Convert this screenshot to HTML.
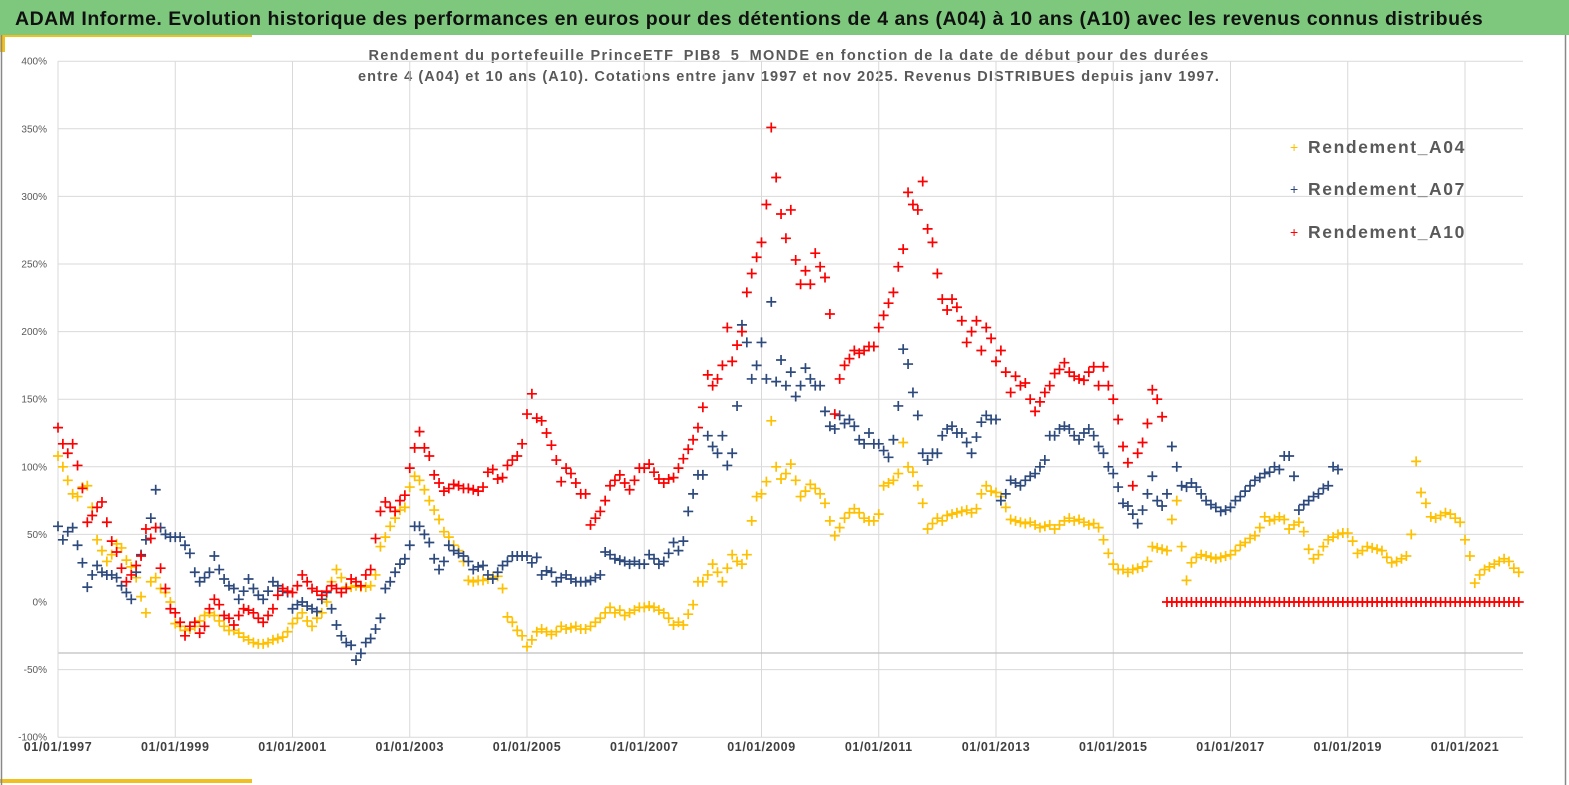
<!DOCTYPE html>
<html><head><meta charset="utf-8"><style>
body{margin:0;background:#fff;width:1569px;height:785px;overflow:hidden;font-family:"Liberation Sans",sans-serif}
</style></head><body>
<svg id="chart" width="1569" height="785" xmlns="http://www.w3.org/2000/svg" style="position:absolute;left:0;top:0">
<rect x="0" y="0" width="1569" height="785" fill="#fff"/>
<rect x="0" y="0" width="1569" height="35" fill="#7ec87e"/>
<text x="15" y="25" font-size="19.5" font-weight="bold" fill="#111" letter-spacing="0.5">ADAM Informe. Evolution historique des performances en euros pour des détentions de 4 ans (A04) à 10 ans (A10) avec les revenus connus distribués</text>
<rect x="0" y="35" width="252" height="2" fill="#f0c020"/>
<rect x="0" y="36" width="5" height="16" fill="#f0c020"/>
<rect x="0" y="779" width="252" height="4" fill="#f0c020"/>
<line x1="1.5" y1="35" x2="1.5" y2="785" stroke="#888" stroke-width="1.5"/>
<line x1="1565.5" y1="35" x2="1565.5" y2="785" stroke="#888" stroke-width="1.5"/>
<text x="789" y="60" font-size="14.5" font-weight="bold" fill="#595959" text-anchor="middle" letter-spacing="1.35">Rendement du portefeuille PrinceETF_PIB8_5_MONDE  en fonction de la date de début pour des durées</text>
<text x="789" y="81" font-size="14.5" font-weight="bold" fill="#595959" text-anchor="middle" letter-spacing="1.1">entre 4 (A04) et 10 ans (A10). Cotations entre janv 1997 et nov 2025. Revenus DISTRIBUES depuis janv 1997.</text>
<g id="grid"></g><g id="axes"></g><g id="marks"></g>
<g>
<g><text x="1290" y="152" font-size="14" fill="#ffc000">+</text><text x="1308" y="153" font-size="17.5" font-weight="bold" fill="#595959" letter-spacing="1.6">Rendement_A04</text></g>
<g><text x="1290" y="194" font-size="14" fill="#2e4a7d">+</text><text x="1308" y="195" font-size="17.5" font-weight="bold" fill="#595959" letter-spacing="1.6">Rendement_A07</text></g>
<g><text x="1290" y="237" font-size="14" fill="#ff0000">+</text><text x="1308" y="238" font-size="17.5" font-weight="bold" fill="#595959" letter-spacing="1.6">Rendement_A10</text></g>
</g>
</svg>
<script>
const startYear = 1997;
const yTicks = [400,350,300,250,200,150,100,50,0,-50,-100];
const xTickYears = [1997,1999,2001,2003,2005,2007,2009,2011,2013,2015,2017,2019,2021];
const a04 = [
108,100,90,80,78,85,86,70,46,38,30,35,
43,40,31,26,18,4,-8,15,18,10,7,0,
-16,-18,-21,-20,-18,-14,-10,-8,-10,-14,-18,-21,
-21,-23,-26,-28,-30,-31,-31,-30,-28,-27,-26,-22,
-16,-12,-8,-14,-18,-12,-8,0,15,24,18,11,
11,12,11,11,12,20,41,48,56,62,68,70,
85,93,90,83,75,68,61,52,48,42,38,30,
16,15,16,16,17,18,19,10,-11,-15,-21,-25,
-33,-28,-22,-20,-22,-24,-22,-18,-20,-19,-18,-20,
-20,-18,-15,-12,-8,-4,-8,-6,-10,-8,-6,-4,
-4,-3,-4,-6,-8,-12,-17,-15,-17,-9,-2,15,
15,20,28,22,15,25,35,30,28,35,60,78,
80,89,134,100,91,95,102,90,78,82,87,84,
80,73,60,49,55,62,66,69,66,62,60,60,
65,86,88,90,95,118,100,96,86,73,54,58,
62,60,64,65,66,67,68,66,69,80,86,82,
81,78,70,61,60,59,58,59,57,55,56,57,
54,57,60,62,60,61,59,57,58,55,46,36,
28,24,24,22,24,25,26,30,41,40,39,38,
61,75,41,16,29,33,35,34,33,32,33,34,
35,38,42,44,47,49,55,63,60,61,63,61,
54,57,59,52,39,32,35,41,46,48,50,51,
51,45,36,38,41,40,39,38,33,29,30,32,
34,50,104,81,73,63,62,64,66,65,62,59,
46,34,14,20,24,26,28,30,32,30,25,22];
const a07 = [
56,46,52,55,42,29,11,20,27,22,20,20,
18,12,7,2,22,35,46,62,83,55,50,48,
48,48,42,36,22,15,18,22,34,24,17,12,
10,2,8,17,10,5,2,8,15,12,8,7,
-5,-2,0,-3,-5,-7,2,7,-5,-17,-25,-30,
-32,-43,-38,-30,-27,-20,-12,10,15,22,28,32,
42,56,56,50,44,32,24,30,42,38,36,34,
30,24,26,27,20,17,22,27,30,34,34,34,
34,29,33,20,23,22,15,18,20,17,15,15,
15,16,18,20,37,35,32,31,30,28,30,28,
28,35,32,28,30,36,44,38,45,67,80,94,
94,123,115,110,123,101,110,145,205,192,165,175,
192,165,222,163,179,160,170,152,160,173,165,160,
160,141,130,128,138,132,135,130,120,117,125,117,
117,112,107,120,145,187,176,155,138,110,105,110,
110,123,128,130,125,125,118,110,122,133,138,135,
135,75,80,90,88,86,90,93,95,100,105,123,
123,128,130,128,123,120,125,128,123,115,110,100,
95,85,73,71,65,58,68,80,93,75,71,80,
115,100,86,85,88,85,80,75,72,70,67,68,
70,75,78,82,86,90,92,95,96,100,98,108,
108,93,68,72,75,78,80,84,86,100,98];
const a10 = [
129,117,110,117,101,84,59,64,70,74,59,45,
37,25,15,20,27,34,54,47,55,25,10,-5,
-8,-15,-25,-18,-15,-23,-18,-5,2,-2,-10,-12,
-17,-10,-5,-6,-8,-12,-15,-10,-5,5,10,8,
7,12,20,15,10,8,5,8,12,10,7,10,
17,15,12,20,24,47,67,74,70,67,75,79,
99,114,126,114,108,94,88,82,84,87,86,84,
84,83,82,85,96,98,91,92,101,105,108,117,
139,154,136,134,125,116,105,89,99,95,88,80,
80,57,62,67,75,86,90,94,88,83,90,99,
99,102,96,91,88,91,92,99,106,113,120,129,
144,168,160,165,175,203,178,190,200,229,243,255,
266,294,351,314,287,269,290,253,235,245,235,258,
248,240,213,139,165,175,180,186,184,186,189,189,
203,212,221,229,248,261,303,294,290,311,276,266,
243,224,216,224,218,208,192,200,208,186,203,195,
178,186,170,155,167,160,162,150,141,148,155,160,
169,172,177,170,167,165,164,170,174,160,174,160,
150,135,115,103,86,110,118,132,157,150,137,0,
0,0,0,0,0,0,0,0,0,0,0,0,
0,0,0,0,0,0,0,0,0,0,0,0,
0,0,0,0,0,0,0,0,0,0,0,0,
0,0,0,0,0,0,0,0,0,0,0,0,
0,0,0,0,0,0,0,0,0,0,0,0,
0,0,0,0,0,0,0,0,0,0,0,0];
const NS='http://www.w3.org/2000/svg';
const X0=58, X1=1523, YEARPX=58.625;
function xScale(t){return X0+(t-startYear)*YEARPX;}
function yScale(v){return 602-v*1.352;}
function mk(tag,attrs,parent){const e=document.createElementNS(NS,tag);for(const k in attrs)e.setAttribute(k,attrs[k]);parent.appendChild(e);return e;}
const grid=document.getElementById('grid'), axes=document.getElementById('axes'), marks=document.getElementById('marks');
yTicks.forEach(v=>{
  const y=yScale(v);
  if(v!==0){const l=mk('line',{x1:X0,x2:X1,y1:y,y2:y,stroke:'#d9d9d9','stroke-width':1},grid);
  
  }
  const t=mk('text',{x:47,y:y+3.5,'font-size':10,fill:'#595959','text-anchor':'end'},axes);
  t.textContent=v+'%';
  
  
});
xTickYears.forEach(yr=>{
  const x=xScale(yr);
  const l=mk('line',{x1:x,x2:x,y1:yScale(400),y2:yScale(-100),stroke:'#d9d9d9','stroke-width':1},grid);
  
  
  const t=mk('text',{x:x,y:751,'font-size':12.5,'font-weight':'bold',fill:'#404040','text-anchor':'middle','letter-spacing':0.6},axes);
  t.textContent='01/01/'+yr;
  
  
});
const ax=mk('line',{x1:X0,x2:X1,y1:653,y2:653,stroke:'#bfbfbf','stroke-width':1.2},axes);


const vax=mk('line',{x1:X0,x2:X0,y1:yScale(400),y2:yScale(-100),stroke:'#d9d9d9','stroke-width':1},axes);


function series(arr,color,name){
  const g=mk('g',{stroke:color,'stroke-width':1.7},marks);
  
  
  arr.forEach((v,i)=>{
    const x=xScale(startYear+i/12), y=yScale(v), s=5;
    const p=mk('path',{d:`M${x-s},${y}H${x+s}M${x},${y-s}V${y+s}`},g);
    
    
  });
}
series(a04,'#ffc000','series-a04');
series(a07,'#2e4a7d','series-a07');
series(a10,'#ff0000','series-a10');
</script>
</body></html>
